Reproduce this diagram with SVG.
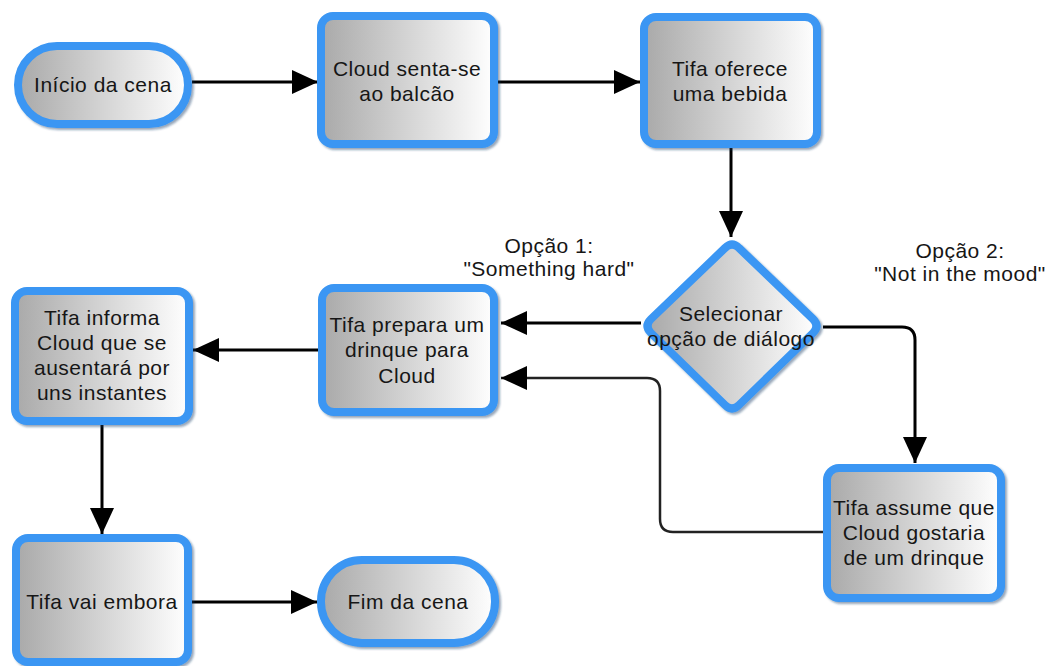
<svg xmlns="http://www.w3.org/2000/svg" width="1047" height="666" viewBox="0 0 1047 666">
  <defs>
    <linearGradient id="fillGrad" x1="0" y1="0" x2="1" y2="0">
      <stop offset="0" stop-color="#a9a9a9"/>
      <stop offset="1" stop-color="#ffffff"/>
    </linearGradient>
    <filter id="shadow" x="-10%" y="-10%" width="125%" height="125%">
      <feDropShadow dx="2" dy="2" stdDeviation="1.2" flood-color="#1a3d66" flood-opacity="0.45"/>
    </filter>
    <marker id="arrow" markerUnits="userSpaceOnUse" markerWidth="26" markerHeight="24" refX="26" refY="12" orient="auto">
      <path d="M0,0 L26,12 L0,24 Z" fill="#000"/>
    </marker>
  </defs>
  <style>
    .node { fill: url(#fillGrad); stroke: #3a96f3; stroke-width: 8; filter: url(#shadow); }
    .label { font-family: "Liberation Sans", Arial, sans-serif; font-size: 21px; letter-spacing: 0.5px; fill: #161616; text-anchor: middle; }
    .conn { fill: none; stroke: #000; stroke-width: 3; marker-end: url(#arrow); }
    .conn.thin { stroke: #222; stroke-width: 2.5; }
  </style>
  <rect width="1047" height="666" fill="#ffffff"/>

  <!-- connectors -->
  <g id="connectors">
    <path class="conn" d="M192,82 H318"/>
    <path class="conn" d="M498,82 H640"/>
    <path class="conn" d="M731,148 V237"/>
    <path class="conn" d="M641,323 H501"/>
    <path class="conn" d="M823,327 H902 Q915,327 915,340 V463"/>
    <path class="conn thin" d="M823,532 H673 Q660,532 660,519 V391 Q660,378 647,378 H501"/>
    <path class="conn" d="M318,350 H193"/>
    <path class="conn" d="M102,425 V534"/>
    <path class="conn" d="M192,602 H317"/>
  </g>

  <!-- edge labels -->
  <g id="edge-labels">
    <text class="label" x="549" y="253">Opção 1:</text>
    <text class="label" x="549" y="276">"Something hard"</text>
    <text class="label" x="960" y="258">Opção 2:</text>
    <text class="label" x="960" y="281">"Not in the mood"</text>
  </g>

  <g id="inicio">
    <rect class="node" x="18" y="46" width="170" height="78" rx="39" ry="39"/>
    <text class="label" x="103" y="92">Início da cena</text>
  </g>

  <g id="cloud-senta">
    <rect class="node" x="321" y="16" width="173" height="128" rx="12" ry="12"/>
    <text class="label" x="407" y="76">Cloud senta-se</text>
    <text class="label" x="407" y="101">ao balcão</text>
  </g>

  <g id="tifa-oferece">
    <rect class="node" x="644" y="17" width="173" height="127" rx="12" ry="12"/>
    <text class="label" x="730" y="76">Tifa oferece</text>
    <text class="label" x="730" y="101">uma bebida</text>
  </g>

  <g id="selecionar">
    <path class="node" d="M739,248 L813,319 Q820,326 813,333 L739,405 Q732,412 725,405 L651,333 Q644,326 651,319 L725,248 Q732,241 739,248 Z"/>
    <text class="label" x="731" y="321">Selecionar</text>
    <text class="label" x="731" y="346">opção de diálogo</text>
  </g>

  <g id="tifa-prepara">
    <rect class="node" x="322" y="288" width="172" height="124" rx="12" ry="12"/>
    <text class="label" x="407" y="332">Tifa prepara um</text>
    <text class="label" x="407" y="357">drinque para</text>
    <text class="label" x="407" y="383">Cloud</text>
  </g>

  <g id="tifa-informa">
    <rect class="node" x="15" y="291" width="174" height="130" rx="12" ry="12"/>
    <text class="label" x="102" y="325">Tifa informa</text>
    <text class="label" x="102" y="350">Cloud que se</text>
    <text class="label" x="102" y="375">ausentará por</text>
    <text class="label" x="102" y="400">uns instantes</text>
  </g>

  <g id="tifa-assume">
    <rect class="node" x="827" y="468" width="174" height="130" rx="12" ry="12"/>
    <text class="label" x="914" y="515">Tifa assume que</text>
    <text class="label" x="914" y="540">Cloud gostaria</text>
    <text class="label" x="914" y="565">de um drinque</text>
  </g>

  <g id="tifa-vai-embora">
    <rect class="node" x="16" y="538" width="172" height="124" rx="12" ry="12"/>
    <text class="label" x="102" y="609">Tifa vai embora</text>
  </g>

  <g id="fim">
    <rect class="node" x="321" y="560" width="174" height="83" rx="41" ry="41"/>
    <text class="label" x="408" y="609">Fim da cena</text>
  </g>
</svg>
